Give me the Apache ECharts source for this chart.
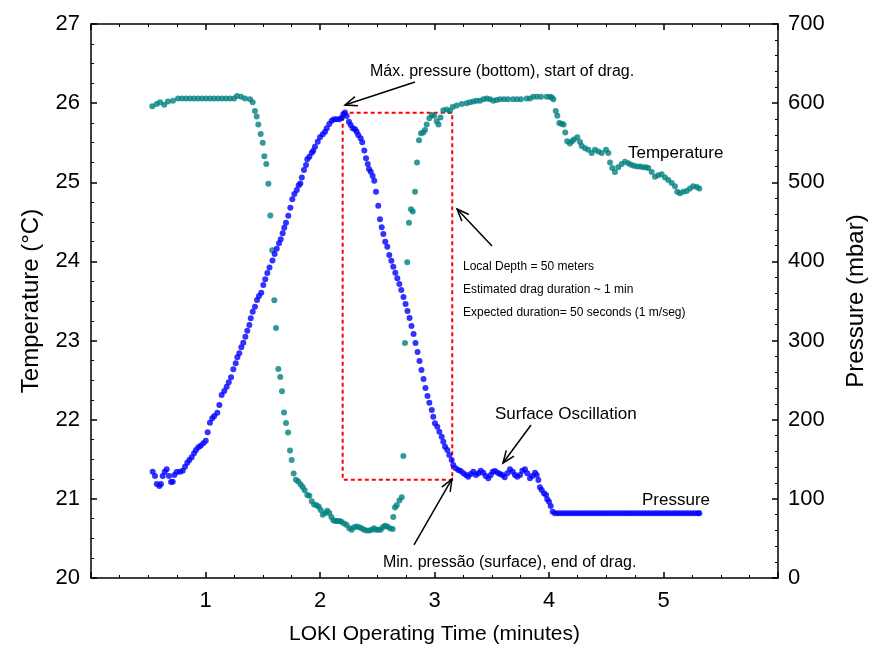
<!DOCTYPE html>
<html><head><meta charset="utf-8">
<script src="https://cdn.jsdelivr.net/npm/echarts@6/dist/echarts.min.js"></script>
<style>html,body{margin:0;padding:0;background:#fff}#c{width:873px;height:655px}</style>
</head><body><div id="c"></div>
<script>
// ---------- DATA ----------
const tempTime = [
0.535,0.574,0.603,0.640,0.672,0.716,0.760,
0.795,0.830,0.865,0.900,0.934,0.969,1.004,1.039,1.074,1.109,1.144,1.179,1.214,1.249,
1.275,1.310,1.345,1.389,1.412,
1.432,1.447,1.461,1.482,1.500,1.514,1.531,1.549,1.566,1.583,
1.601,1.616,1.636,1.653,1.668,1.686,1.703,1.721,1.738,1.753,
1.770,1.790,1.810,1.831,1.849,1.866,1.889,1.907,1.928,1.948,
1.971,1.989,2.006,2.024,2.046,2.064,2.081,2.099,2.116,2.134,
2.151,2.169,2.186,2.210,2.233,2.256,2.277,2.297,2.320,2.343,
2.364,2.384,2.408,2.431,2.452,2.472,2.489,2.509,2.530,2.548,
2.568,2.588,2.611,2.635,2.640,2.655,2.670,2.693,2.714,2.728,
2.742,2.762,2.777,2.795,2.810,2.830,2.847,2.865,2.882,2.902,
2.917,2.932,2.955,2.976,2.996,3.019,3.035,3.052,3.077,3.107,
3.135,3.159,3.194,3.238,3.281,3.310,3.339,3.367,3.397,3.428,
3.456,3.485,3.514,3.542,3.572,3.607,3.642,3.686,3.721,3.755,
3.805,3.834,3.863,3.895,3.930,3.980,4.009,4.024,4.038,4.059,
4.073,4.090,4.109,4.127,4.142,4.159,4.183,4.201,4.218,4.247,
4.271,4.286,4.314,4.343,4.373,4.402,4.431,4.460,4.498,4.518,
4.533,4.553,4.576,4.605,4.635,4.664,4.693,4.716,4.742,4.769,
4.795,4.821,4.847,4.867,4.897,4.926,4.955,4.984,5.013,5.042,
5.072,5.100,5.120,5.144,5.173,5.203,5.231,5.260,5.290,5.313
];
const tempValues = [
25.96,25.99,26.01,25.98,26.02,26.03,26.06,
26.06,26.06,26.06,26.06,26.06,26.06,26.06,26.06,26.06,26.06,26.06,26.06,26.06,26.06,
26.09,26.08,26.06,26.05,26.01,
25.90,25.83,25.73,25.61,25.50,25.33,25.23,24.98,24.58,24.14,
23.51,23.16,22.64,22.54,22.36,22.09,21.96,21.84,21.61,21.49,
21.32,21.24,21.22,21.18,21.15,21.11,21.05,21.04,20.97,20.93,
20.92,20.90,20.86,20.80,20.82,20.85,20.82,20.77,20.73,20.72,
20.72,20.72,20.71,20.69,20.67,20.63,20.61,20.64,20.65,20.64,
20.63,20.61,20.60,20.60,20.61,20.63,20.61,20.61,20.61,20.64,
20.66,20.65,20.63,20.62,20.77,20.89,20.92,20.98,21.02,21.54,
22.97,23.99,24.49,24.66,24.63,24.88,25.25,25.53,25.62,25.63,
25.66,25.73,25.81,25.85,25.84,25.77,25.73,25.82,25.91,25.92,
25.90,25.95,25.97,25.99,26.00,26.01,26.02,26.03,26.03,26.05,
26.06,26.05,26.03,26.04,26.05,26.05,26.05,26.05,26.05,26.05,
26.06,26.06,26.08,26.08,26.08,26.08,26.08,26.07,26.05,25.90,
25.84,25.75,25.74,25.73,25.63,25.52,25.49,25.52,25.54,25.57,
25.51,25.46,25.43,25.41,25.37,25.41,25.39,25.37,25.41,25.37,
25.25,25.18,25.13,25.19,25.23,25.26,25.24,25.22,25.21,25.20,
25.20,25.19,25.19,25.18,25.13,25.07,25.09,25.10,25.06,25.03,
24.99,24.95,24.88,24.86,24.88,24.89,24.92,24.95,24.94,24.92
];
const presTime = [
0.539,0.559,0.574,0.597,0.611,0.626,0.644,0.661,0.681,0.699,
0.714,0.728,0.748,0.777,0.801,0.821,0.841,0.859,0.879,0.900,
0.917,0.937,0.958,0.981,1.002,1.019,1.039,1.059,1.077,1.103,
1.121,1.141,1.164,1.185,1.203,1.223,1.243,1.264,1.278,1.295,
1.313,1.330,1.348,1.365,1.383,1.395,1.412,1.432,1.450,1.467,
1.487,1.505,1.522,1.540,1.559,1.585,1.604,1.622,1.642,1.657,
1.674,1.688,1.703,1.723,1.741,1.758,1.776,1.797,1.814,1.828,
1.841,1.860,1.878,1.889,1.907,1.928,1.941,1.956,1.980,2.000,
2.024,2.044,2.059,2.081,2.102,2.122,2.146,2.169,2.190,2.203,
2.218,2.233,2.253,2.268,2.286,2.306,2.320,2.334,2.355,2.369,
2.387,2.402,2.417,2.428,2.443,2.460,2.474,2.489,2.509,2.524,
2.539,2.553,2.570,2.588,2.605,2.623,2.640,2.658,2.675,2.693,
2.710,2.729,2.747,2.764,2.782,2.799,2.817,2.834,2.852,2.869,
2.886,2.904,2.921,2.939,2.955,2.976,2.989,3.004,3.024,3.042,
3.063,3.077,3.092,3.112,3.129,3.150,3.164,3.185,3.208,3.229,
3.252,3.275,3.295,3.316,3.339,3.362,3.383,3.404,3.426,3.447,
3.470,3.491,3.508,3.528,3.552,3.572,3.592,3.613,3.636,3.659,
3.683,3.703,3.723,3.747,3.767,3.790,3.810,3.834,3.854,3.878,
3.893,3.907,3.921,3.936,3.956,3.974,3.985,4.000,4.015,4.032,
4.052,4.078,4.104,4.130,4.156,4.182,4.208,4.234,4.260,4.286,
4.312,4.338,4.364,4.390,4.416,4.442,4.468,4.494,4.520,4.546,
4.572,4.598,4.624,4.650,4.676,4.702,4.728,4.754,4.780,4.806,
4.832,4.858,4.884,4.910,4.936,4.962,4.988,5.014,5.040,5.066,
5.092,5.118,5.144,5.170,5.196,5.222,5.248,5.274,5.300,5.313
];
const presValues = [
134.3,128.9,118.8,116.2,118.8,128.9,134.3,137.3,128.9,121.3,
121.7,130.1,133.9,134.3,135.6,140.6,145.7,149.1,152.5,157.6,
161.7,165.1,167.2,170.2,173.5,184.1,196.2,201.8,204.7,208.9,
218.6,231.2,236.3,241.7,247.3,253.6,263.7,271.3,278.9,283.9,
291.5,297.3,304.9,312.5,319.7,328.1,336.5,342.8,351.3,356.3,
360.5,370.2,377.4,385.4,392.3,401.2,409.4,416.1,422.9,428.0,
435.5,442.6,448.9,457.8,467.9,478.5,485.2,490.2,496.2,498.5,
506.0,515.5,521.8,529.0,532.3,537.4,539.9,545.0,551.3,556.8,
560.6,563.9,568.2,573.6,577.8,579.6,579.6,579.6,581.6,585.9,
588.2,583.7,576.5,572.4,568.2,566.9,563.9,559.7,555.6,550.5,
540.2,530.3,523.1,516.8,513.4,507.9,502.0,488.1,470.4,453.2,
443.1,434.7,424.9,418.6,408.1,400.9,393.3,385.8,378.7,371.5,
363.9,355.0,346.2,337.4,328.5,318.4,308.3,296.9,285.6,274.2,
262.8,251.4,240.1,230.0,221.5,212.3,203.8,195.5,191.2,184.9,
178.5,172.2,165.9,161.7,155.4,149.1,142.8,138.6,136.5,135.2,
132.3,130.1,128.0,131.4,134.3,130.1,132.3,135.6,133.0,128.9,
126.0,130.1,134.3,135.2,133.0,131.4,130.1,127.2,132.3,137.3,
134.3,130.1,128.0,130.1,135.6,137.3,132.3,126.0,128.9,133.0,
130.1,123.8,114.6,111.2,107.0,104.9,99.4,96.4,91.0,83.8,
81.7,81.7,81.7,81.7,81.7,81.7,81.7,81.7,81.7,81.7,
81.7,81.7,81.7,81.7,81.7,81.7,81.7,81.7,81.7,81.7,
81.7,81.7,81.7,81.7,81.7,81.7,81.7,81.7,81.7,81.7,
81.7,81.7,81.7,81.7,81.7,81.7,81.7,81.7,81.7,81.7,
81.7,81.7,81.7,81.7,81.7,81.7,81.7,81.7,81.7,81.7
];
const xTickLabels = ['1','2','3','4','5'];
// drag window (time, pressure)
const dragWindow = [[2.198, 587.9], [3.155, 124.2]];

// ---------- CHART ----------
const FONT = "'Liberation Sans', Arial, sans-serif";
const NARROW = "'Liberation Sans Narrow', 'Liberation Sans', Arial, sans-serif";
const chart = echarts.init(document.getElementById('c'), null, {renderer: 'canvas'});

const axisLineStyle = {color: '#000', width: 1.5};
function xAxisCfg(pos, showLabels) {
  return {
    type: 'value', position: pos, min: 0, max: 6, interval: 1,
    axisLine: {show: true, onZero: false, lineStyle: axisLineStyle},
    axisTick: {show: true, inside: true, length: 6, lineStyle: {color: '#000', width: 1.5}},
    minorTick: {show: true, splitNumber: 4, length: 3, lineStyle: {color: '#000', width: 1}},
    splitLine: {show: false},
    axisLabel: showLabels ? {
      show: true, margin: 12, color: '#000', fontFamily: NARROW, fontSize: 22,
      formatter: v => xTickLabels.includes(String(v)) ? String(v) : ''
    } : {show: false},
    name: showLabels ? 'LOKI Operating Time (minutes)' : '',
    nameLocation: 'middle', nameGap: 46,
    nameTextStyle: {color: '#000', fontFamily: NARROW, fontSize: 21}
  };
}

const option = {
  animation: false,
  backgroundColor: '#fff',
  grid: {left: 91, right: 95, top: 24, bottom: 77, containLabel: false, outerBoundsMode: 'none'},
  xAxis: [xAxisCfg('bottom', true), xAxisCfg('top', false)],
  yAxis: [
    {
      type: 'value', position: 'left', min: 20, max: 27, interval: 1,
      axisLine: {show: true, onZero: false, lineStyle: axisLineStyle},
      axisTick: {show: true, inside: true, length: 6, lineStyle: {color: '#000', width: 1.5}},
      minorTick: {show: true, splitNumber: 4, length: 3, lineStyle: {color: '#000', width: 1}},
      splitLine: {show: false},
      axisLabel: {margin: 11, color: '#000', fontFamily: FONT, fontSize: 22},
      name: 'Temperature (°C)', nameLocation: 'middle', nameGap: 48, nameRotate: 90,
      nameTextStyle: {color: '#000', fontFamily: FONT, fontSize: 24}
    },
    {
      type: 'value', position: 'right', min: 0, max: 700, interval: 100,
      axisLine: {show: true, onZero: false, lineStyle: axisLineStyle},
      axisTick: {show: true, inside: true, length: 6, lineStyle: {color: '#000', width: 1.5}},
      minorTick: {show: true, splitNumber: 5, length: 3, lineStyle: {color: '#000', width: 1}},
      splitLine: {show: false},
      axisLabel: {margin: 10, color: '#000', fontFamily: FONT, fontSize: 22},
      name: 'Pressure (mbar)', nameLocation: 'middle', nameGap: 66, nameRotate: 90,
      nameTextStyle: {color: '#000', fontFamily: FONT, fontSize: 24}
    }
  ],
  series: [
    {
      name: 'Pressure', type: 'scatter', xAxisIndex: 0, yAxisIndex: 1,
      symbol: 'circle', symbolSize: 6, itemStyle: {color: '#0000FF'},
      emphasis: {disabled: true},
      data: presTime.map((t, i) => [t, presValues[i]]),
      markArea: {
        silent: true,
        itemStyle: {color: 'rgba(0,0,0,0)', borderColor: '#FF0000', borderWidth: 2, borderType: [4, 3]},
        data: [[{coord: dragWindow[0]}, {coord: dragWindow[1]}]]
      },
      z: 3
    },
    {
      name: 'Temperature', type: 'scatter', xAxisIndex: 0, yAxisIndex: 0,
      symbol: 'circle', symbolSize: 6, itemStyle: {color: '#008080'},
      emphasis: {disabled: true},
      data: tempTime.map((t, i) => [t, tempValues[i]]),
      z: 2
    }
  ]
};
chart.setOption(option);

// ---------- ANNOTATIONS (placed in time/pressure data units) ----------
const arrowsSpec = [
  {tail: [2.830, 626.7], head: [2.218, 597.6]},
  {tail: [3.502, 419.5], head: [3.197, 466.2]},
  {tail: [3.843, 193.3], head: [3.598, 145.3]},
  {tail: [2.821, 41.7], head: [3.153, 125.1]}
];
const textsSpec = [
  {text: 'Máx. pressure (bottom), start of drag.', at: [2.437, 639.3], size: 16},
  {text: 'Local Depth = 50 meters', at: [3.249, 393], size: 12},
  {text: 'Estimated drag duration ~ 1 min', at: [3.249, 364], size: 12},
  {text: 'Expected duration= 50 seconds (1 m/seg)', at: [3.249, 335], size: 12},
  {text: 'Surface Oscillation', at: [3.528, 207.2], size: 17},
  {text: 'Temperature', at: [4.690, 537], size: 17},
  {text: 'Pressure', at: [4.812, 98.6], size: 17},
  {text: 'Min. pressão (surface), end of drag.', at: [2.550, 19], size: 16}
];
function px(p) { return chart.convertToPixel({xAxisIndex: 0, yAxisIndex: 1}, p); }
const els = [];
arrowsSpec.forEach(a => {
  const t = px(a.tail), h = px(a.head);
  const ang = Math.atan2(h[1] - t[1], h[0] - t[0]);
  const L = 13, w = 0.38;
  const p1 = [h[0] - L * Math.cos(ang - w), h[1] - L * Math.sin(ang - w)];
  const p2 = [h[0] - L * Math.cos(ang + w), h[1] - L * Math.sin(ang + w)];
  els.push({type: 'line', shape: {x1: t[0], y1: t[1], x2: h[0], y2: h[1]}, style: {stroke: '#000', lineWidth: 1.5}, z: 10});
  els.push({type: 'polyline', shape: {points: [p1, h, p2]}, style: {stroke: '#000', lineWidth: 1.5, fill: null}, z: 10});
});
textsSpec.forEach(s => {
  const p = px(s.at);
  els.push({type: 'text', x: p[0], y: p[1], z: 10,
    style: {text: s.text, fill: '#000', font: s.size + 'px ' + FONT, verticalAlign: 'middle', align: 'left'}});
});
chart.setOption({graphic: {elements: els}});
</script>
</body></html>
